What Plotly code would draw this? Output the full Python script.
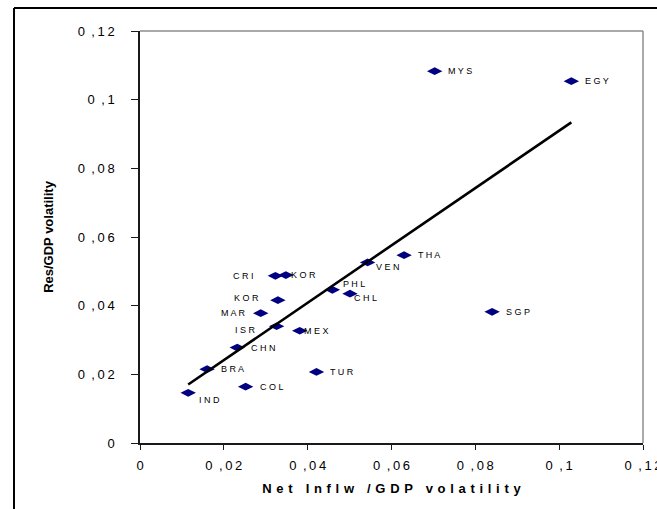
import numpy as np
import plotly.graph_objects as go

# ---- data ----
countries = ["MYS", "EGY", "THA", "VEN", "PHL", "CHL", "SGP", "TUR", "MEX",
             "CRI", "KOR", "KOR", "MAR", "ISR", "CHN", "BRA", "COL", "IND"]
net_inflow_vol = [0.0703, 0.1029, 0.0630, 0.0543, 0.0459, 0.0501, 0.0840, 0.0421, 0.0381,
                  0.0323, 0.0348, 0.0329, 0.0288, 0.0326, 0.0232, 0.0160, 0.0252, 0.0115]
res_vol = [0.1083, 0.1054, 0.0547, 0.0526, 0.0446, 0.0435, 0.0382, 0.0207, 0.0327,
           0.0487, 0.0489, 0.0416, 0.0378, 0.0340, 0.0278, 0.0215, 0.0164, 0.0146]
tick_vals = [0, 0.02, 0.04, 0.06, 0.08, 0.1, 0.12]
tick_labels = ["0", "0,02", "0,04", "0,06", "0,08", "0,1", "0,12"]
x_title = "Net Inflw /GDP volatility"
y_title = "Res/GDP volatility"

# ---- label placement style (anchor, x shift px, y shift px) ----
label_style = [("left", 11, 0), ("left", 12, 0), ("left", 12, 0), ("left", 6, -5),
               ("left", 9, 6), ("left", 2, -4), ("left", 12, 0), ("left", 12, 0),
               ("left", 2, 0), ("right", -19, 0), ("left", 3, 0), ("right", -17, 2),
               ("right", -13, 0), ("right", -19, -4), ("left", 12, 0), ("left", 12, 0),
               ("left", 12, 0), ("left", 9, -7)]

FONT = "Liberation Sans, Arial, sans-serif"
THIN = "\u2009"
HAIR = "\u200a"


def tick_text(s):
    t = THIN.join(s)
    return t.replace(THIN + ",", "\u2002,")


def spaced(s, sep):
    return sep.join(s)


fig = go.Figure()

fig.add_trace(go.Scatter(
    x=net_inflow_vol, y=res_vol, mode="markers",
    marker=dict(symbol="diamond-wide", size=11, color="#000080",
                line=dict(width=0)),
    showlegend=False, hoverinfo="skip", cliponaxis=False))

# linear trend line (least squares) over the data range
slope, intercept = np.polyfit(net_inflow_vol, res_vol, 1)
xf = np.array([min(net_inflow_vol), max(net_inflow_vol)])
fig.add_trace(go.Scatter(
    x=xf, y=slope * xf + intercept, mode="lines",
    line=dict(color="black", width=2.6), showlegend=False, hoverinfo="skip"))

annotations = []
for name, xv, yv, (anc, dx, dy) in zip(countries, net_inflow_vol, res_vol, label_style):
    annotations.append(dict(
        x=xv, y=yv, xref="x", yref="y", text=spaced(name, " "),
        showarrow=False, xanchor=anc, yanchor="middle", xshift=dx, yshift=dy,
        font=dict(family=FONT, size=9, color="black")))

axis_common = dict(
    range=[0, 0.12], tickvals=tick_vals, ticktext=[tick_text(t) for t in tick_labels],
    showgrid=False, zeroline=False, showline=True, linecolor="#1a1a1a", linewidth=1.5,
    ticks="outside", tickcolor="#1a1a1a", tickwidth=1.2, ticklabeloverflow="allow",
    automargin=False, tickfont=dict(family=FONT, size=13, color="black"))

FRAME_X = -0.2505   # outer frame left edge (paper units)
FRAME_Y = 1.0558    # outer frame top edge (paper units)

fig.update_layout(
    width=657, height=509,
    margin=dict(l=140, r=14, t=31, b=66, autoexpand=False),
    paper_bgcolor="white", plot_bgcolor="white",
    xaxis=dict(**axis_common, ticklen=5, ticklabelstandoff=5,
               title=dict(text=spaced(x_title, " " + HAIR),
                          font=dict(family=FONT, size=13, color="black", weight="bold"),
                          standoff=12)),
    yaxis=dict(**axis_common, ticklen=7, ticklabelstandoff=14,
               title=dict(text=y_title,
                          font=dict(family=FONT, size=13, color="black", weight="bold"),
                          standoff=21)),
    annotations=annotations,
    shapes=[
        # light grey plot-area border (top and right)
        dict(type="line", xref="paper", yref="paper", x0=0, x1=1, y0=1, y1=1,
             line=dict(color="#8c8c8c", width=1.5), layer="above"),
        dict(type="line", xref="paper", yref="paper", x0=1, x1=1, y0=0, y1=1,
             line=dict(color="#8c8c8c", width=1.5), layer="above"),
        # outer chart frame (left and top edges visible in the window)
        dict(type="line", xref="paper", yref="paper", x0=FRAME_X, x1=FRAME_X,
             y0=-0.2, y1=FRAME_Y, line=dict(color="black", width=2), layer="above"),
        dict(type="line", xref="paper", yref="paper", x0=FRAME_X, x1=1.04,
             y0=FRAME_Y, y1=FRAME_Y, line=dict(color="black", width=2), layer="above"),
    ],
)

fig.write_html("out.html", config={"displayModeBar": False},
               post_script="document.body.style.margin='0';")
